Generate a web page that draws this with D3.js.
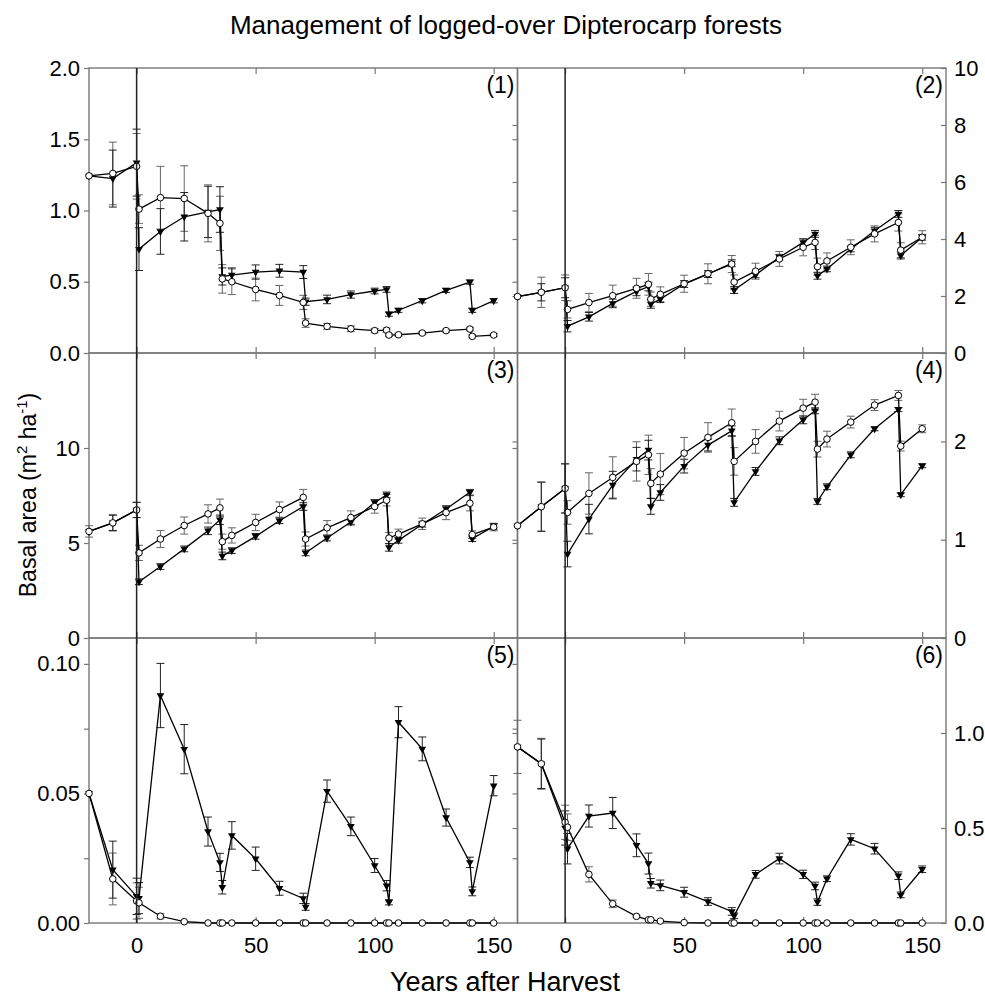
<!DOCTYPE html>
<html><head><meta charset="utf-8">
<script src="https://cdn.jsdelivr.net/npm/d3@7"></script>
<style>body{margin:0;background:#fff} text{font-family:"Liberation Sans",Arial,sans-serif;fill:#000}</style>
</head><body><svg id="c" width="985" height="998"></svg>
<script>
// ---------- data ----------
const years = [-20,-10,0,1,10,20,30,35,36,40,50,60,70,71,80,90,100,105,106,110,120,130,140,141,150];
const xTicks = [0,50,100,150];

const p1Open   = [1.243,1.26,1.31,1.01,1.09,1.084,0.98,0.91,0.52,0.50,0.446,0.404,0.355,0.21,0.187,0.17,0.157,0.16,0.126,0.128,0.14,0.157,0.168,0.117,0.126];
const p1OpenE  = [0,0.22,0.23,0.1,0.22,0.23,0.2,0.19,0.1,0.09,0.08,0.07,0.05,0.03,0.02,0.02,0.015,0.015,0.01,0.01,0.01,0.01,0.012,0.01,0.01];
const p1Tri    = [1.243,1.224,1.336,0.729,0.853,0.956,0.99,1.007,0.537,0.547,0.568,0.577,0.568,0.36,0.376,0.41,0.435,0.446,0.273,0.30,0.367,0.44,0.498,0.30,0.367];
const p1TriE   = [0,0.2,0.235,0.15,0.16,0.17,0.18,0.16,0.06,0.05,0.05,0.045,0.045,0.025,0.03,0.025,0.02,0.02,0.015,0.015,0.015,0.015,0.015,0.015,0.015];

const p2Open   = [1.98,2.13,2.29,1.53,1.77,2.01,2.27,2.41,1.89,2.06,2.43,2.78,3.12,2.49,2.87,3.30,3.71,3.88,3.03,3.23,3.71,4.18,4.58,3.61,4.06];
const p2OpenE  = [0,0.53,0.45,0.3,0.32,0.37,0.35,0.38,0.25,0.26,0.3,0.35,0.3,0.25,0.28,0.26,0.3,0.25,0.3,0.28,0.26,0.28,0.3,0.26,0.23];
const p2Tri    = [1.98,2.13,2.29,0.94,1.27,1.74,2.16,2.33,1.72,1.89,2.42,2.77,3.15,2.21,2.74,3.36,3.88,4.18,2.71,2.95,3.65,4.29,4.88,3.42,4.06];
const p2TriE   = [0,0.3,0.35,0.2,0.15,0.15,0.15,0.15,0.15,0.12,0.12,0.12,0.12,0.12,0.1,0.1,0.12,0.12,0.12,0.1,0.1,0.12,0.12,0.12,0.1];

const p3Open   = [5.61,6.06,6.74,4.48,5.21,5.92,6.53,6.85,5.07,5.40,6.08,6.76,7.40,5.21,5.80,6.34,6.92,7.25,5.26,5.47,6.01,6.60,7.09,5.44,5.84];
const p3OpenE  = [0.3,0.43,0.4,0.4,0.45,0.45,0.48,0.46,0.4,0.4,0.43,0.4,0.42,0.37,0.38,0.35,0.35,0.3,0.3,0.26,0.3,0.37,0.4,0.2,0.2];
const p3Tri    = [5.61,6.06,6.74,2.96,3.76,4.69,5.64,6.22,4.32,4.60,5.35,6.17,6.92,4.48,5.26,6.10,7.13,7.53,4.77,5.14,5.99,6.79,7.67,5.23,5.87];
const p3TriE   = [0,0.4,0.4,0.15,0.15,0.15,0.2,0.25,0.2,0.15,0.15,0.15,0.2,0.15,0.15,0.15,0.15,0.15,0.2,0.15,0.15,0.15,0.15,0.15,0.15];

const p4Open   = [1.142,1.336,1.522,1.278,1.471,1.634,1.797,1.864,1.573,1.668,1.881,2.041,2.19,1.797,2.0,2.207,2.339,2.4,1.922,2.024,2.197,2.37,2.468,1.953,2.129];
const p4OpenE  = [0,0.25,0.25,0.12,0.21,0.21,0.2,0.2,0.15,0.21,0.16,0.15,0.14,0.14,0.12,0.1,0.09,0.08,0.08,0.08,0.06,0.055,0.05,0.05,0.04];
const p4Tri    = [1.142,1.336,1.522,0.854,1.21,1.556,1.82,1.912,1.339,1.481,1.749,1.963,2.108,1.38,1.695,2.007,2.22,2.312,1.39,1.539,1.864,2.129,2.325,1.458,1.753];
const p4TriE   = [0,0.25,0.25,0.13,0.15,0.14,0.12,0.1,0.08,0.08,0.07,0.06,0.05,0.04,0.04,0.04,0.04,0.03,0.03,0.03,0.03,0.02,0.02,0.02,0.02];

const p5Open   = [0.050,0.017,0.0085,0.0078,0.0026,0.0005,0,0,0,0,0,0,0,0,0,0,0,0,0,0,0,0,0,0,0];
const p5OpenE  = [0,0.01,0.007,0.006,0.001,0,0,0,0,0,0,0,0,0,0,0,0,0,0,0,0,0,0,0,0];
const p5Tri    = [0.050,0.0206,0.0103,0.0096,0.0878,0.0671,0.0353,0.0234,0.0138,0.0338,0.0248,0.0134,0.0095,0.0062,0.0509,0.0373,0.0222,0.0144,0.008,0.0775,0.0672,0.0407,0.0234,0.0122,0.053];
const p5TriE   = [0,0.011,0.007,0.006,0.0124,0.0095,0.0056,0.0035,0.0026,0.0053,0.0045,0.0027,0.002,0.0013,0.0043,0.0036,0.0027,0.002,0.001,0.006,0.0046,0.0033,0.002,0.0017,0.0039];

const p6Open   = [0.927,0.838,0.53,0.504,0.256,0.101,0.035,0.017,0.017,0.01,0.002,0,0,0,0,0,0,0,0,0,0,0,0,0,0];
const p6OpenE  = [0.14,0.134,0.09,0.07,0.04,0.02,0.005,0,0,0,0,0,0,0,0,0,0,0,0,0,0,0,0,0,0];
const p6Tri    = [0.927,0.838,0.50,0.391,0.563,0.579,0.409,0.313,0.209,0.198,0.162,0.113,0.061,0.038,0.256,0.339,0.256,0.195,0.11,0.233,0.44,0.391,0.249,0.148,0.283];
const p6TriE   = [0,0.13,0.09,0.08,0.058,0.082,0.06,0.055,0.025,0.028,0.026,0.02,0.02,0.015,0.02,0.028,0.022,0.02,0.017,0.015,0.03,0.028,0.02,0.015,0.017];

const yTicks1 = [0,0.5,1,1.5,2],          yLabels1 = [0,0.5,1,1.5,2];
const yTicks2 = [0,2,4,6,8,10],           yLabels2 = [0,2,4,6,8,10];
const yTicks3 = [0,5,10],                 yLabels3 = [0,5,10];
const yTicks4 = [0,1,2],                  yLabels4 = [0,1,2];
const yTicks5 = [0,0.025,0.05,0.075,0.1], yLabels5 = [0,0.05,0.1];
const yTicks6 = [0,0.5,1],                yLabels6 = [0,0.5,1];

const title = "Management of logged-over Dipterocarp forests";
const xTitle = "Years after Harvest";

// ---------- layout ----------
const svg = d3.select("#c");
const L = 89, W = 428.5, T = 68, H = 285;
const xDomain = [-20,160];

const panels = [
  {name:"(1)", col:0,row:0, ymax:2,    ticks:yTicks1, labels:yLabels1, fmt:d3.format(".1f"), open:p1Open, openE:p1OpenE, tri:p1Tri, triE:p1TriE},
  {name:"(2)", col:1,row:0, ymax:10,   ticks:yTicks2, labels:yLabels2, fmt:d3.format("d"),   open:p2Open, openE:p2OpenE, tri:p2Tri, triE:p2TriE},
  {name:"(3)", col:0,row:1, ymax:15,   ticks:yTicks3, labels:yLabels3, fmt:d3.format("d"),   open:p3Open, openE:p3OpenE, tri:p3Tri, triE:p3TriE},
  {name:"(4)", col:1,row:1, ymax:2.9,  ticks:yTicks4, labels:yLabels4, fmt:d3.format("d"),   open:p4Open, openE:p4OpenE, tri:p4Tri, triE:p4TriE},
  {name:"(5)", col:0,row:2, ymax:0.11, ticks:yTicks5, labels:yLabels5, fmt:d3.format(".2f"), open:p5Open, openE:p5OpenE, tri:p5Tri, triE:p5TriE},
  {name:"(6)", col:1,row:2, ymax:1.5,  ticks:yTicks6, labels:yLabels6, fmt:d3.format(".1f"), open:p6Open, openE:p6OpenE, tri:p6Tri, triE:p6TriE},
];

const frameColor = "#777";

function styleAxis(g){
  g.select(".domain").remove();
  g.selectAll(".tick line").attr("stroke", frameColor).attr("stroke-width",1.2);
  g.selectAll(".tick text").style("font-size","22px").attr("fill","#000");
}

panels.forEach(p=>{
  const x0 = L + p.col*W, y0 = T + p.row*H;
  const g = svg.append("g").attr("transform",`translate(${x0},${y0})`);
  const x = d3.scaleLinear().domain(xDomain).range([0,W]);
  const y = d3.scaleLinear().domain([0,p.ymax]).range([H,0]);
  const labelSet = new Set(p.labels.map(v=>+v.toFixed(4)));
  const fmt = v => labelSet.has(+v.toFixed(4)) ? p.fmt(v) : "";

  // x ticks top & bottom (inward)
  const top = g.append("g").call(d3.axisTop(x).tickValues(xTicks).tickSize(-6).tickFormat(""));
  styleAxis(top);
  const bot = g.append("g").attr("transform",`translate(0,${H})`)
    .call(d3.axisBottom(x).tickValues(xTicks).tickSize(-6).tickPadding(14)
      .tickFormat(p.row===2 ? d3.format("d") : ""));
  styleAxis(bot);

  const inner = p.ticks.filter(v => v > 0 && v < p.ymax);
  if(p.col===0){
    const ax = g.append("g").call(d3.axisLeft(y).tickValues(p.ticks).tickSize(5).tickPadding(4)
      .tickFormat(v => (p.row>0 && v===p.ymax) ? "" : fmt(v)));
    styleAxis(ax);
    const mr = g.append("g").attr("transform",`translate(${W},0)`)
      .call(d3.axisRight(y).tickValues(inner).tickSize(-5).tickFormat(""));
    styleAxis(mr);
  } else {
    const ax = g.append("g").attr("transform",`translate(${W},0)`)
      .call(d3.axisRight(y).tickValues(p.ticks).tickSize(-5).tickPadding(8).tickFormat(fmt));
    styleAxis(ax);
    ax.selectAll(".tick text").attr("x", 8);
    const ml = g.append("g").call(d3.axisLeft(y).tickValues(inner).tickSize(5).tickFormat(""));
    styleAxis(ml);
  }

  // frame
  g.append("rect").attr("x",0).attr("y",0).attr("width",W).attr("height",H)
    .attr("fill","none").attr("stroke",frameColor).attr("stroke-width",1.4);

  // error bars
  const drawErr = (vals, errs, color) => {
    const eg = g.append("g").attr("stroke",color).attr("stroke-width",1).attr("fill","none");
    years.forEach((yr,i)=>{
      const e = errs[i]; if(!e) return;
      const cx = x(yr), ya = y(vals[i]+e), yb = y(Math.max(0,vals[i]-e));
      eg.append("line").attr("x1",cx).attr("x2",cx).attr("y1",ya).attr("y2",yb);
      eg.append("line").attr("x1",cx-4).attr("x2",cx+4).attr("y1",ya).attr("y2",ya);
      eg.append("line").attr("x1",cx-4).attr("x2",cx+4).attr("y1",yb).attr("y2",yb);
    });
  };
  drawErr(p.open, p.openE, "#666");
  drawErr(p.tri, p.triE, "#222");

  const line = d3.line().x((d,i)=>x(years[i])).y(d=>y(d));
  g.append("path").datum(p.tri).attr("d",line).attr("fill","none").attr("stroke","#000").attr("stroke-width",1.3);
  g.append("path").datum(p.open).attr("d",line).attr("fill","none").attr("stroke","#000").attr("stroke-width",1.3);

  const tri = d3.symbol().type(d3.symbolTriangle).size(26);
  g.selectAll(".tri").data(p.tri).join("path")
    .attr("transform",(d,i)=>`translate(${x(years[i])},${y(d)}) rotate(180)`)
    .attr("d",tri).attr("fill","#000");
  g.selectAll(".circ").data(p.open).join("circle")
    .attr("cx",(d,i)=>x(years[i])).attr("cy",d=>y(d)).attr("r",3.3)
    .attr("fill","#fff").attr("stroke","#000").attr("stroke-width",1);

  g.append("text").attr("x",W-3).attr("y",25).attr("text-anchor","end")
    .style("font-size","23px").text(p.name);
});

// harvest lines at year 0 in both columns
[0,1].forEach(c=>{
  const x = d3.scaleLinear().domain(xDomain).range([L+c*W, L+(c+1)*W]);
  svg.append("line").attr("x1",x(0)).attr("x2",x(0)).attr("y1",T).attr("y2",T+3*H)
    .attr("stroke","#222").attr("stroke-width",1.5);
});

svg.append("text").attr("x",506).attr("y",34).attr("text-anchor","middle")
  .style("font-size","26px").text(title);
svg.append("text").attr("x",505).attr("y",991).attr("text-anchor","middle")
  .style("font-size","27px").text(xTitle);
const yl = svg.append("text").attr("transform","translate(36,495) rotate(-90)")
  .attr("text-anchor","middle").style("font-size","23px");
yl.append("tspan").text("Basal area (m");
yl.append("tspan").attr("dy",-9).style("font-size","15px").text("2");
yl.append("tspan").attr("dy",9).text(" ha");
yl.append("tspan").attr("dy",-9).style("font-size","15px").text("-1");
yl.append("tspan").attr("dy",9).text(")");
</script></body></html>
